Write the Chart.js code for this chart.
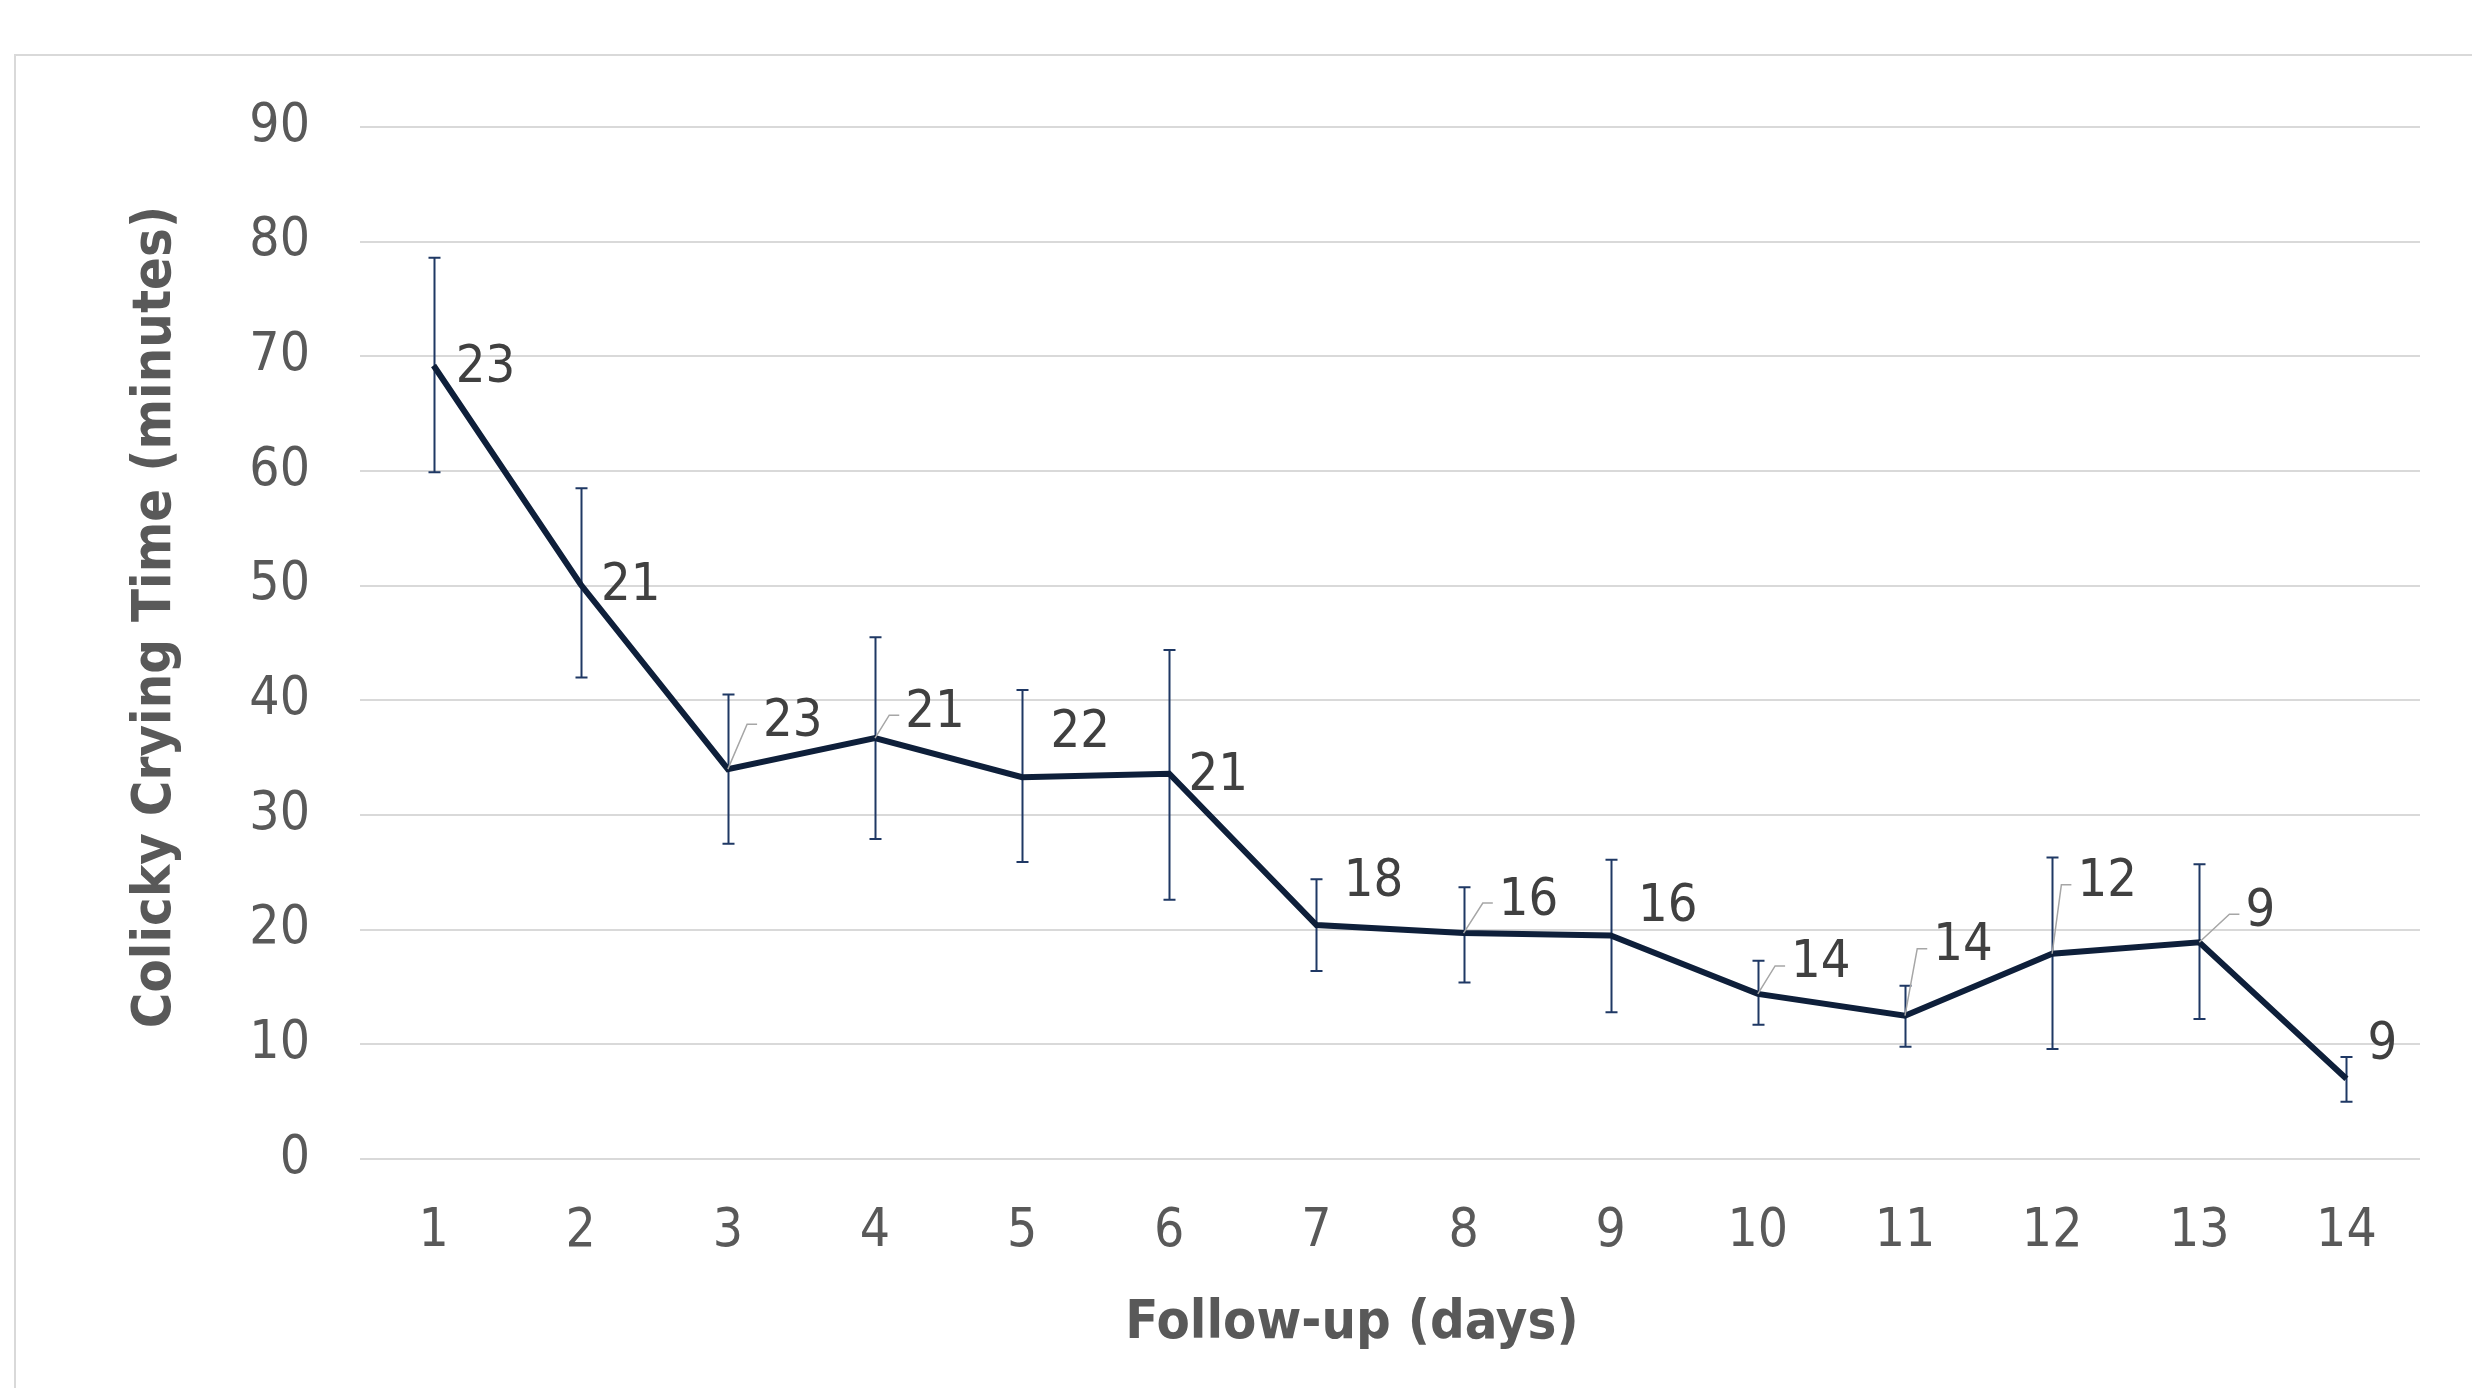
<!DOCTYPE html>
<html>
<head>
<meta charset="utf-8">
<script src="https://cdn.jsdelivr.net/npm/chart.js@4.4.1/dist/chart.umd.min.js"></script>
<style>
    html, body { margin: 0; padding: 0; background: #fff; overflow: hidden; }
    #wrap { position: relative; width: 2472px; height: 1388px; }
    #frame { position: absolute; left: 14px; top: 54px; right: -10px; bottom: -10px; border-left: 2px solid #d9d9d9; border-top: 2px solid #d9d9d9; }
    #crying { position: absolute; left: 0; top: 0; }
</style>
</head>
<body>
<div id="wrap">
    <div id="frame"></div>
    <canvas id="crying" width="2472" height="1388"></canvas>
</div>
<script>
// Follow-up days
const days = ['1', '2', '3', '4', '5', '6', '7', '8', '9', '10', '11', '12', '13', '14'];
// Mean colicky crying time (minutes)
const cryingMean = [69.2, 50.1, 34.0, 36.7, 33.3, 33.6, 20.4, 19.7, 19.5, 14.4, 12.5, 17.9, 18.9, 7.0];
// Error bar ends
const errUpper = [78.6, 58.5, 40.5, 45.5, 40.9, 44.4, 24.4, 23.7, 26.1, 17.3, 15.1, 26.3, 25.7, 8.9];
const errLower = [59.9, 42.0, 27.5, 27.9, 25.9, 22.6, 16.4, 15.4, 12.8, 11.7, 9.8, 9.6, 12.2, 5.0];
// Number of infants shown next to each point
const counts = ['23', '21', '23', '21', '22', '21', '18', '16', '16', '14', '14', '12', '9', '9'];

// label placement (pixel offsets from the point) and which ones get a leader line
const labelOffsets = [[52, 3], [50, 2], [65, -47], [60, -25], [58, -44], [49, 3], [57, -43],
    [65, -32], [57, -28], [63, -30], [58, -69], [55, -71], [61, -30], [36, -33]];
const withLeader = [2, 3, 7, 9, 10, 11, 12];

const FONT = '"DejaVu Sans Condensed", "DejaVu Sans", sans-serif';

// error bars drawn behind the line
const errorBars = {
    id: 'errorBars',
    beforeDatasetsDraw(chart) {
        const ctx = chart.ctx;
        const x = chart.scales.x;
        const y = chart.scales.y;
        ctx.save();
        ctx.strokeStyle = '#1f3864';
        ctx.lineWidth = 2;
        for (let i = 0; i < days.length; i++) {
            const px = Math.round(x.getPixelForValue(i)) + 0.5;
            const top = y.getPixelForValue(errUpper[i]);
            const bot = y.getPixelForValue(errLower[i]);
            ctx.beginPath();
            ctx.moveTo(px, top);
            ctx.lineTo(px, bot);
            ctx.moveTo(px - 6, top);
            ctx.lineTo(px + 6, top);
            ctx.moveTo(px - 6, bot);
            ctx.lineTo(px + 6, bot);
            ctx.stroke();
        }
        ctx.restore();
    }
};

// count labels beside the points
const countLabels = {
    id: 'countLabels',
    afterDatasetsDraw(chart) {
        const ctx = chart.ctx;
        const pts = chart.getDatasetMeta(0).data;
        ctx.save();
        ctx.font = '52px ' + FONT;
        ctx.textAlign = 'center';
        ctx.textBaseline = 'middle';
        pts.forEach((p, i) => {
            const lx = p.x + labelOffsets[i][0];
            const ly = p.y + labelOffsets[i][1];
            if (withLeader.includes(i)) {
                const w = ctx.measureText(counts[i]).width;
                const ex = lx - w / 2 - 6;
                ctx.strokeStyle = '#a6a6a6';
                ctx.lineWidth = 1.5;
                ctx.beginPath();
                ctx.moveTo(p.x, p.y);
                ctx.lineTo(ex - 10, ly + 2);
                ctx.lineTo(ex, ly + 2);
                ctx.stroke();
            }
            ctx.fillStyle = '#404040';
            ctx.fillText(counts[i], lx, ly);
        });
        ctx.restore();
    }
};

// axis titles, placed the way the original sheet has them
const axisTitles = {
    id: 'axisTitles',
    afterDraw(chart) {
        const ctx = chart.ctx;
        ctx.save();
        ctx.fillStyle = '#595959';
        ctx.font = 'bold 54px ' + FONT;
        ctx.textAlign = 'center';
        ctx.textBaseline = 'middle';
        ctx.fillText('Follow-up (days)', 1352, 1324);
        ctx.translate(156, 617);
        ctx.rotate(-Math.PI / 2);
        ctx.fillText('Colicky Crying Time (minutes)', 0, 0);
        ctx.restore();
    }
};

new Chart(document.getElementById('crying'), {
    type: 'line',
    data: {
        labels: days,
        datasets: [{
            data: cryingMean,
            borderColor: '#0e1f3a',
            borderWidth: 6,
            pointRadius: 0,
            tension: 0,
            fill: false
        }]
    },
    options: {
        responsive: false,
        animation: false,
        devicePixelRatio: 1,
        layout: { padding: { left: 0, top: 127, right: 52, bottom: 0 } },
        plugins: {
            legend: { display: false },
            tooltip: { enabled: false }
        },
        scales: {
            x: {
                offset: true,
                grid: { display: false, drawTicks: false },
                border: { display: false },
                ticks: {
                    color: '#595959',
                    font: { family: FONT, size: 53 },
                    padding: 41
                },
                afterFit(scale) { scale.height = 229; }
            },
            y: {
                min: 0,
                max: 90,
                grid: { color: '#d9d9d9', lineWidth: 2, drawTicks: false },
                border: { display: false },
                ticks: {
                    stepSize: 10,
                    color: '#595959',
                    font: { family: FONT, size: 53 },
                    padding: 50
                },
                afterFit(scale) { scale.width = 360; }
            }
        }
    },
    plugins: [errorBars, countLabels, axisTitles]
});
</script>
</body>
</html>
